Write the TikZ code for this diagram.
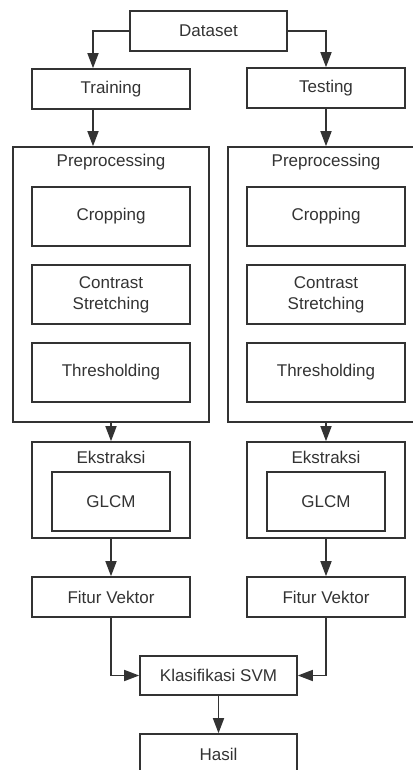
\documentclass[tikz,border=0pt]{standalone}
\usepackage{fontspec}
\setmainfont{Liberation Sans}
\usetikzlibrary{arrows.meta}
\definecolor{ink}{HTML}{333333}
\tikzset{
  {box/.style} ={draw=ink, line width=1.6pt, rectangle, text=ink,
                 minimum width=158pt, minimum height=40pt,
                 align=center, font=\fontsize{17}{21}\selectfont},
  {tall box/.style} ={box, minimum height=59pt},
  {frame/.style} ={box, minimum width=196pt, minimum height=275pt},
  {title/.style} ={text=ink, font=\fontsize{17}{21}\selectfont},
  {flow/.style} ={draw=ink, line width=1.6pt,
                  -{Triangle[length=15pt,width=11pt]}},
}

\begin{document}
\begin{tikzpicture}[x=1pt,y=-1pt]
\useasboundingbox (0,0) rectangle (412,770);

\node[box, minimum width=157pt] (dataset) at (208.5,31) {Dataset};
\node[box] (train) at (111,89) {Training};
\node[box] (test) at (326,88) {Testing};

% two preprocessing stages
\node[frame] (preA) at (111,284.5) {};
\node[frame] (preB) at (326,284.5) {};
\node[title] (preAtitle) at (111,162) {Preprocessing};
\node[title] (preBtitle) at (326,162) {Preprocessing};

\node[tall box] (cropA) at (111,216.5) {Cropping};
\node[tall box] (contA) at (111,294.5) {Contrast\\Stretching};
\node[tall box] (thrA) at (111,372.5) {Thresholding};
\node[tall box] (cropB) at (326,216.5) {Cropping};
\node[tall box] (contB) at (326,294.5) {Contrast\\Stretching};
\node[tall box] (thrB) at (326,372.5) {Thresholding};

% feature extraction
\node[box, minimum height=96pt] (eksA) at (111,490) {};
\node[box, minimum height=96pt] (eksB) at (326,490) {};
\node[title] (eksAtitle) at (111,457) {Ekstraksi};
\node[title] (eksBtitle) at (326,457) {Ekstraksi};
\node[tall box, minimum width=118pt] (glcmA) at (111,501.5) {GLCM};
\node[tall box, minimum width=118pt] (glcmB) at (326,501.5) {GLCM};

\node[box] (fitA) at (111,597) {Fitur Vektor};
\node[box] (fitB) at (326,597) {Fitur Vektor};

\node[box, minimum width=157pt, minimum height=39pt] (svm) at (218.5,675.5) {Klasifikasi SVM};
\node[box, minimum width=157pt] (hasil) at (218.5,754) {Hasil};

\draw[flow] (dataset.west) -| ([xshift=-18pt]train.north);
\draw[flow] (dataset.east) -| (test.north);
\draw[flow] ([xshift=-18pt]train.south) -- ([xshift=-18pt]preA.north);
\draw[flow] (test.south) -- (preB.north);
\draw[flow] (preA.south) -- (eksA.north);
\draw[flow] (preB.south) -- (eksB.north);
\draw[flow] (eksA.south) -- (fitA.north);
\draw[flow] (eksB.south) -- (fitB.north);
\draw[flow] (fitA.south) |- (svm.west);
\draw[flow] (fitB.south) |- (svm.east);
\draw[flow] (svm.south) -- (hasil.north);
\end{tikzpicture}
\end{document}
